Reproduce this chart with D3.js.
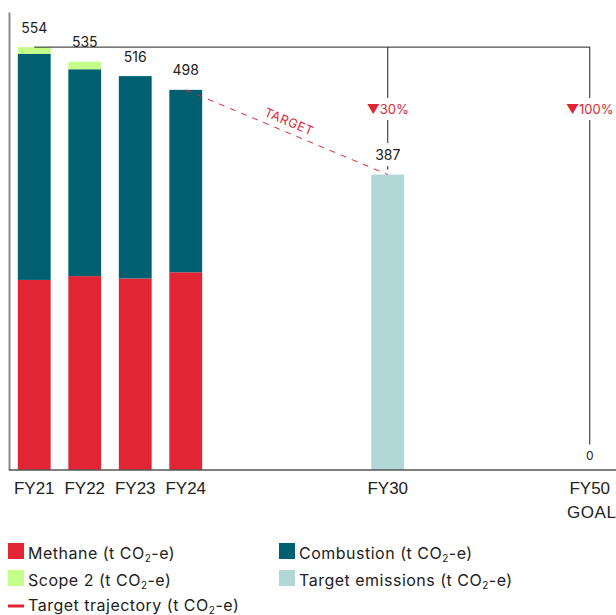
<!DOCTYPE html>
<html>
<head>
<meta charset="utf-8">
<script src="https://cdn.jsdelivr.net/npm/d3@7"></script>
<style>
  body { margin: 0; background: #fff; }
  svg { font-family: Inter, "Open Sans", sans-serif; }
</style>
</head>
<body>
<svg id="chart" width="616" height="615"></svg>
<script>
// actual emissions (t CO2-e)
const years = ["FY21", "FY22", "FY23", "FY24"];
const methane = [249, 254, 251, 259];
const combustion = [296, 271, 265, 239];
const scope2 = [9, 10, 0, 0];
const totals = [554, 535, 516, 498];

// targets
const targetYears = ["FY30", "FY50"];
const targetValues = [387, 0];
const reductions = ["30%", "100%"];
const goalLabel = "GOAL";

// empty slots keep the gaps between actuals and targets
const slots = ["FY21", "FY22", "FY23", "FY24", "s1", "s2", "s3", "FY30", "s4", "s5", "s6", "FY50"];

const legendNames = ["Methane", "Combustion", "Scope 2", "Target emissions", "Target trajectory"];

const red = "#e22535";
const colors = {
  methane: red,
  combustion: "#00606f",
  scope2: "#c4fe8b",
  target: "#b1d8d7"
};

const svg = d3.select("#chart");

const x = d3.scaleBand()
  .domain(slots)
  .range([9, 615])
  .paddingInner(0.35)
  .paddingOuter(0.175);

const y = d3.scaleLinear()
  .domain([0, 600])
  .range([470, 12]);

const cx = d => x(d) + x.bandwidth() / 2;

// stacked actuals
const rows = years.map((d, i) => ({
  year: d,
  methane: methane[i],
  combustion: combustion[i],
  scope2: scope2[i]
}));
const series = d3.stack().keys(["methane", "combustion", "scope2"])(rows);

svg.append("g")
  .selectAll("g")
  .data(series)
  .join("g")
  .attr("fill", d => colors[d.key])
  .selectAll("rect")
  .data(d => d)
  .join("rect")
  .attr("x", d => x(d.data.year))
  .attr("y", d => y(d[1]))
  .attr("height", d => y(d[0]) - y(d[1]))
  .attr("width", x.bandwidth());

// target bars
svg.append("g")
  .attr("fill", colors.target)
  .selectAll("rect")
  .data(targetYears)
  .join("rect")
  .attr("x", d => x(d))
  .attr("y", (d, i) => y(targetValues[i]))
  .attr("height", (d, i) => y(0) - y(targetValues[i]))
  .attr("width", x.bandwidth());

// axes
svg.append("g")
  .attr("transform", `translate(9,0)`)
  .call(d3.axisLeft(y).tickValues([]).tickSizeOuter(0))
  .call(g => g.select(".domain").attr("stroke", "#8a8a8a").attr("stroke-width", 2));

const xAxis = svg.append("g")
  .attr("transform", `translate(0,${y(0)})`)
  .attr("font-family", null)
  .attr("color", "#222")
  .call(d3.axisBottom(x).tickValues([...years, ...targetYears]).tickSize(0).tickSizeOuter(0).tickPadding(12))
  .call(g => g.select(".domain").attr("stroke", "#555").attr("stroke-width", 1.5).attr("d", "M9,0H616"))
  .call(g => g.selectAll("text").attr("font-size", 17));

xAxis.selectAll(".tick")
  .filter(d => d === "FY50")
  .append("text")
  .attr("fill", "#222")
  .attr("font-size", 17)
  .attr("letter-spacing", 0.6)
  .attr("x", 2)
  .attr("y", 36)
  .attr("dy", "0.71em")
  .text(goalLabel);

// total labels
svg.append("g")
  .attr("font-size", 14)
  .attr("fill", "#222")
  .attr("text-anchor", "middle")
  .selectAll("text")
  .data(totals)
  .join("text")
  .attr("x", (d, i) => cx(years[i]))
  .attr("y", d => y(d) - 14.5)
  .text(d => d);

// baseline reference and drops to targets
const base = totals[0];
const ref = svg.append("g").attr("stroke", "#222").attr("stroke-width", 1);
ref.append("line")
  .attr("x1", cx(years[0])).attr("x2", cx("FY50"))
  .attr("y1", y(base)).attr("y2", y(base));
ref.selectAll(".drop")
  .data(targetYears)
  .join("line")
  .attr("class", "drop")
  .attr("x1", d => cx(d)).attr("x2", d => cx(d))
  .attr("y1", y(base))
  .attr("y2", (d, i) => y(targetValues[i]) - 5);

// target trajectory
const last = years.length - 1;
const p0 = [cx(years[last]), y(totals[last])];
const p1 = [cx(targetYears[0]), y(targetValues[0])];
svg.append("path")
  .attr("d", d3.line()([p0, p1]))
  .attr("fill", "none")
  .attr("stroke", red)
  .attr("stroke-width", 1)
  .attr("stroke-dasharray", "6,6");

const angle = Math.atan2(p1[1] - p0[1], p1[0] - p0[0]) * 180 / Math.PI;
svg.append("text")
  .attr("transform", `translate(${(p0[0] + p1[0]) / 2 - 2},${(p0[1] + p1[1]) / 2}) rotate(${angle})`)
  .attr("y", -7)
  .attr("text-anchor", "middle")
  .attr("font-size", 12.5)
  .attr("letter-spacing", 0.6)
  .attr("fill", red)
  .text("TARGET");

// labels drawn over the drop lines with a white backing
function label(txt, lx, ly, size, fill) {
  const g = svg.append("g");
  const t = g.append("text")
    .attr("x", lx).attr("y", ly)
    .attr("text-anchor", "middle")
    .attr("font-size", size)
    .attr("fill", fill)
    .text(txt);
  const b = t.node().getBBox();
  g.insert("rect", "text")
    .attr("x", b.x - 2).attr("y", b.y - 3)
    .attr("width", b.width + 4).attr("height", b.height + 6)
    .attr("fill", "#fff");
}

targetYears.forEach((d, i) => {
  label("\u25BC" + reductions[i], cx(d), 114, 13, red);
  label(targetValues[i], cx(d), y(targetValues[i]) - (targetValues[i] ? 14.5 : 10.5), targetValues[i] ? 14 : 12, "#222");
});

// legend
const legend = svg.append("g")
  .attr("font-size", 16)
  .attr("letter-spacing", 0.5)
  .attr("fill", "#222")
  .selectAll("g")
  .data(legendNames)
  .join("g")
  .attr("transform", (d, i) => `translate(${[8, 279][i % 2]},${[543, 570, 595][Math.floor(i / 2)]})`);

const legendColors = [colors.methane, colors.combustion, colors.scope2, colors.target];
legend.filter((d, i) => i < 4)
  .append("rect")
  .attr("width", 16).attr("height", 16)
  .attr("fill", (d, i) => legendColors[i]);
legend.filter((d, i) => i === 4)
  .append("line")
  .attr("x1", 0).attr("x2", 16)
  .attr("y1", 11).attr("y2", 11)
  .attr("stroke", red)
  .attr("stroke-width", 3);

const lt = legend.append("text")
  .attr("x", 20)
  .attr("y", 16);
lt.append("tspan").text(d => `${d} (t CO`);
lt.append("tspan").attr("font-size", 10).attr("dy", 3).text("2");
lt.append("tspan").attr("dy", -3).text("-e)");
</script>
</body>
</html>
